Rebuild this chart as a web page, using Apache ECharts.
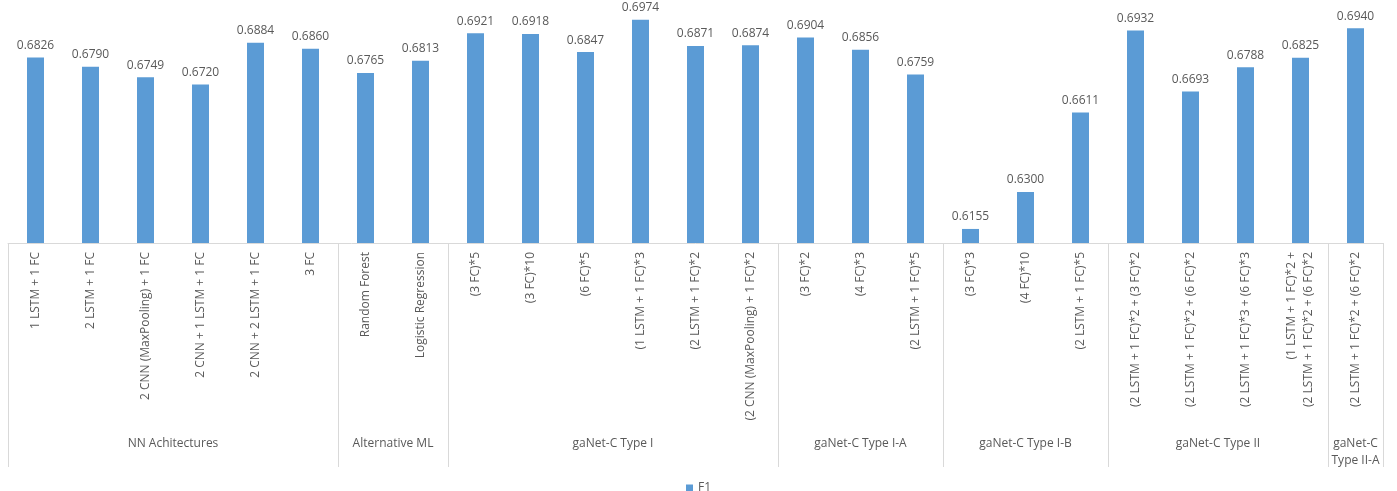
<!DOCTYPE html>
<html>
<head>
<meta charset="utf-8">
<title>F1 by architecture</title>
<script src="https://cdn.jsdelivr.net/npm/echarts@6/dist/echarts.min.js"></script>
<style>
  html, body { margin: 0; padding: 0; background: #fff; }
  #chart { width: 1397px; height: 491px; }
</style>
</head>
<body>
<div id="chart"></div>
<script>
// Model configurations (x axis) and their F1 scores
const categories = [
  '1 LSTM + 1 FC',
  '2 LSTM + 1 FC',
  '2 CNN (MaxPooling) + 1 FC',
  '2 CNN + 1 LSTM + 1 FC',
  '2 CNN + 2 LSTM + 1 FC',
  '3 FC',
  'Random Forest',
  'Logistic Regression',
  '(3 FC)*5',
  '(3 FC)*10',
  '(6 FC)*5',
  '(1 LSTM + 1 FC)*3',
  '(2 LSTM + 1 FC)*2',
  '(2 CNN (MaxPooling) + 1 FC)*2',
  '(3 FC)*2',
  '(4 FC)*3',
  '(2 LSTM + 1 FC)*5',
  '(3 FC)*3',
  '(4 FC)*10',
  '(2 LSTM + 1 FC)*5',
  '(2 LSTM + 1 FC)*2 + (3 FC)*2',
  '(2 LSTM + 1 FC)*2 + (6 FC)*2',
  '(2 LSTM + 1 FC)*3 + (6 FC)*3',
  '(1 LSTM + 1 FC)*2 +\n(2 LSTM + 1 FC)*2 + (6 FC)*2',
  '(2 LSTM + 1 FC)*2 + (6 FC)*2'
];

const f1 = [
  0.6826, 0.6790, 0.6749, 0.6720, 0.6884, 0.6860,
  0.6765, 0.6813,
  0.6921, 0.6918, 0.6847, 0.6974, 0.6871, 0.6874,
  0.6904, 0.6856, 0.6759,
  0.6155, 0.6300, 0.6611,
  0.6932, 0.6693, 0.6788, 0.6825,
  0.6940
];

// Category groups shown beneath the rotated labels
const groupNames = [
  'NN Achitectures',
  'Alternative ML',
  'gaNet-C Type I',
  'gaNet-C Type I-A',
  'gaNet-C Type I-B',
  'gaNet-C Type II',
  'gaNet-C\nType II-A'
];
const groupSizes = [6, 2, 6, 3, 3, 4, 1];

const TEXT = '#595959';
const RULE = '#d9d9d9';
const FONT = 'Open Sans';

const chart = echarts.init(document.getElementById('chart'), null, { renderer: 'canvas' });

chart.setOption({
  animation: false,
  textStyle: { fontFamily: FONT },
  grid: { left: 8, right: 14, top: 13, bottom: 248, containLabel: false },
  legend: {
    top: 477,
    left: 'center',
    itemWidth: 7,
    itemHeight: 7,
    itemGap: 10,
    icon: 'rect',
    textStyle: { color: TEXT, fontSize: 12, fontFamily: FONT },
    data: ['F1']
  },
  xAxis: {
    type: 'category',
    data: categories,
    boundaryGap: true,
    axisLine: { show: true, lineStyle: { color: RULE, width: 1 } },
    axisTick: { show: false },
    axisLabel: {
      interval: 0,
      rotate: 90,
      margin: 9,
      color: TEXT,
      fontSize: 12,
      fontFamily: FONT,
      lineHeight: 17
    }
  },
  yAxis: {
    type: 'value',
    min: 0.61,
    max: 0.70,
    show: false,
    splitLine: { show: false }
  },
  series: [{
    name: 'F1',
    type: 'bar',
    data: f1,
    barWidth: 17,
    itemStyle: { color: '#5b9bd5' },
    label: {
      show: true,
      position: 'top',
      distance: 6,
      color: TEXT,
      fontSize: 12,
      fontFamily: FONT,
      formatter: p => p.value.toFixed(4)
    }
  }]
});

// Group separators and group titles, placed from the category axis scale
function drawGroups() {
  const x0 = chart.convertToPixel({ xAxisIndex: 0 }, 0);
  const x1 = chart.convertToPixel({ xAxisIndex: 0 }, 1);
  const band = x1 - x0;
  const axisY = chart.convertToPixel({ yAxisIndex: 0 }, 0.61);
  const bottomY = axisY + 224;
  const edge = i => chart.convertToPixel({ xAxisIndex: 0 }, i) - band / 2;

  const elements = [];
  let start = 0;
  const boundaries = [0];
  groupSizes.forEach(n => { start += n; boundaries.push(start); });

  boundaries.forEach(b => {
    const x = Math.round(b < categories.length ? edge(b) : edge(b - 1) + band) + 0.5;
    elements.push({
      type: 'line',
      shape: { x1: x, y1: axisY, x2: x, y2: bottomY },
      style: { stroke: RULE, lineWidth: 1 },
      silent: true
    });
  });

  groupNames.forEach((name, g) => {
    const a = edge(boundaries[g]);
    const b = edge(boundaries[g + 1] - 1) + band;
    elements.push({
      type: 'text',
      x: (a + b) / 2,
      y: axisY + 192,
      style: {
        text: name,
        fill: TEXT,
        font: '12px "' + FONT + '"',
        align: 'center',
        verticalAlign: 'top',
        lineHeight: 17
      },
      silent: true
    });
  });

  chart.setOption({ graphic: { elements } });
}

drawGroups();
</script>
</body>
</html>
